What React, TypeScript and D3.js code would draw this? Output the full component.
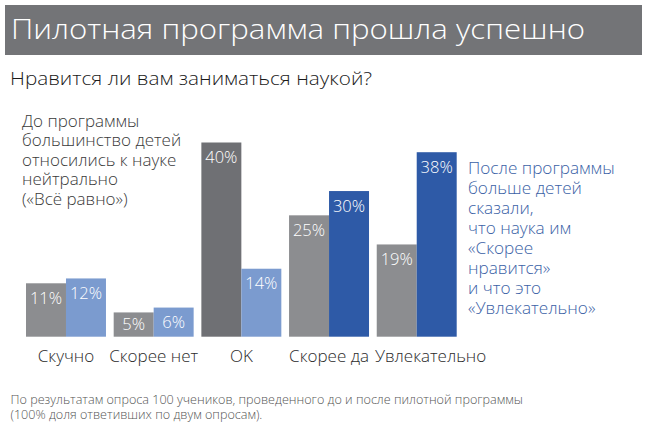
import React, { useEffect, useRef } from 'react';
import * as d3 from 'd3';

// survey answers, before and after the pilot (percent of pupils)
const categories = ['Скучно', 'Скорее нет', 'OK', 'Скорее да', 'Увлекательно'];
const before = [11, 5, 40, 25, 19];
const after = [12, 6, 14, 30, 38];

// which bars get the strong colour
const beforeHighlight = [false, false, true, false, false];
const afterHighlight = [false, false, false, true, true];

const title = 'Пилотная программа прошла успешно';
const subtitle = 'Нравится ли вам заниматься наукой?';
const noteBefore = ['До программы', 'большинство детей', 'относились к науке', 'нейтрально', '(«Всё равно»)'];
const noteAfter = [
  'После программы',
  'больше детей',
  'сказали,',
  'что наука им',
  '«Скорее',
  'нравится»',
  'и что это',
  '«Увлекательно»',
];
const footnote = [
  'По результатам опроса 100 учеников, проведенного до и после пилотной программы',
  '(100% доля ответивших по двум опросам).',
];

const WIDTH = 648;
const HEIGHT = 426;
const FONT = '"Open Sans", "Noto Sans", sans-serif';

const Chart = () => {
  const ref = useRef<SVGSVGElement | null>(null);

  useEffect(() => {
    const svg = d3.select(ref.current);
    svg.selectAll('*').remove();
    svg.style('font-family', FONT).style('font-weight', 300);

    // header bar
    svg
      .append('rect')
      .attr('x', 5)
      .attr('y', 5)
      .attr('width', 637)
      .attr('height', 50)
      .attr('fill', '#737477');
    svg
      .append('text')
      .attr('x', 11)
      .attr('y', 39)
      .attr('fill', '#ffffff')
      .attr('textLength', 574)
      .attr('lengthAdjust', 'spacingAndGlyphs')
      .style('font-size', '28px')
      .text(title);

    svg
      .append('text')
      .attr('x', 10)
      .attr('y', 85)
      .attr('fill', '#1a1a1a')
      .attr('textLength', 362)
      .attr('lengthAdjust', 'spacingAndGlyphs')
      .style('font-size', '18.5px')
      .text(subtitle);

    // scales
    const x = d3.scaleBand<string>().domain(categories).range([26, 456.7]).paddingInner(0.088);
    const xs = d3.scaleBand<string>().domain(['before', 'after']).range([0, x.bandwidth()]);
    const y = d3.scaleLinear().domain([0, 40]).range([336.7, 142.5]);

    const rows = categories.map((c, i) => ({
      cat: c,
      bars: [
        { key: 'before', value: before[i], color: beforeHighlight[i] ? '#6f7074' : '#8c8d90' },
        { key: 'after', value: after[i], color: afterHighlight[i] ? '#2e5aa7' : '#7b9bcf' },
      ],
    }));

    const groups = svg
      .append('g')
      .selectAll('g')
      .data(rows)
      .enter()
      .append('g')
      .attr('transform', (d) => `translate(${x(d.cat)},0)`);

    groups
      .selectAll('rect')
      .data((d) => d.bars)
      .enter()
      .append('rect')
      .attr('x', (d) => xs(d.key)!)
      .attr('y', (d) => y(d.value))
      .attr('width', xs.bandwidth())
      .attr('height', (d) => y(0) - y(d.value))
      .attr('fill', (d) => d.color);

    // value labels inside the top of each bar
    groups
      .selectAll('text.value')
      .data((d) => d.bars)
      .enter()
      .append('text')
      .attr('class', 'value')
      .attr('x', (d) => xs(d.key)! + xs.bandwidth() / 2)
      .attr('y', (d) => Math.min(y(d.value) + 20.5, y(0) - 6.5))
      .attr('text-anchor', 'middle')
      .attr('fill', '#ffffff')
      .style('font-size', '16.5px')
      .text((d) => `${d.value}%`);

    // category labels, centred under each group; a long label that would
    // run into its left neighbour is pushed to the right
    const catLabels = svg
      .append('g')
      .selectAll('text')
      .data(categories)
      .enter()
      .append('text')
      .attr('y', 361.5)
      .attr('fill', '#2b2b2b')
      .style('font-size', '17px')
      .text((d) => d);

    let prevEnd = -Infinity;
    catLabels.each(function (d) {
      const node = this as SVGTextElement;
      const w = node.getComputedTextLength();
      let left = x(d)! + x.bandwidth() / 2 - w / 2;
      if (left < prevEnd + 6) left = prevEnd + 6;
      d3.select(node).attr('x', left);
      prevEnd = left + w;
    });

    // annotations
    svg
      .append('g')
      .selectAll('text')
      .data(noteBefore)
      .enter()
      .append('text')
      .attr('x', 22)
      .attr('y', (d, i) => 126.5 + i * 19.5)
      .attr('fill', '#3a3a3a')
      .style('font-size', '17px')
      .text((d) => d);

    svg
      .append('g')
      .selectAll('text')
      .data(noteAfter)
      .enter()
      .append('text')
      .attr('x', 468)
      .attr('y', (d, i) => 173.5 + i * 20)
      .attr('fill', '#3b62a6')
      .style('font-size', '17.2px')
      .text((d) => d);

    svg
      .append('g')
      .selectAll('text')
      .data(footnote)
      .enter()
      .append('text')
      .attr('x', 10.5)
      .attr('y', (d, i) => 404 + i * 14.5)
      .attr('fill', '#555555')
      .style('font-size', '12.6px')
      .text((d) => d);
  }, []);

  return (
    <svg
      ref={ref}
      width={WIDTH}
      height={HEIGHT}
      style={{ position: 'absolute', left: 0, top: 0, display: 'block', background: '#ffffff' }}
    />
  );
};

export default function App() {
  return <Chart />;
}
